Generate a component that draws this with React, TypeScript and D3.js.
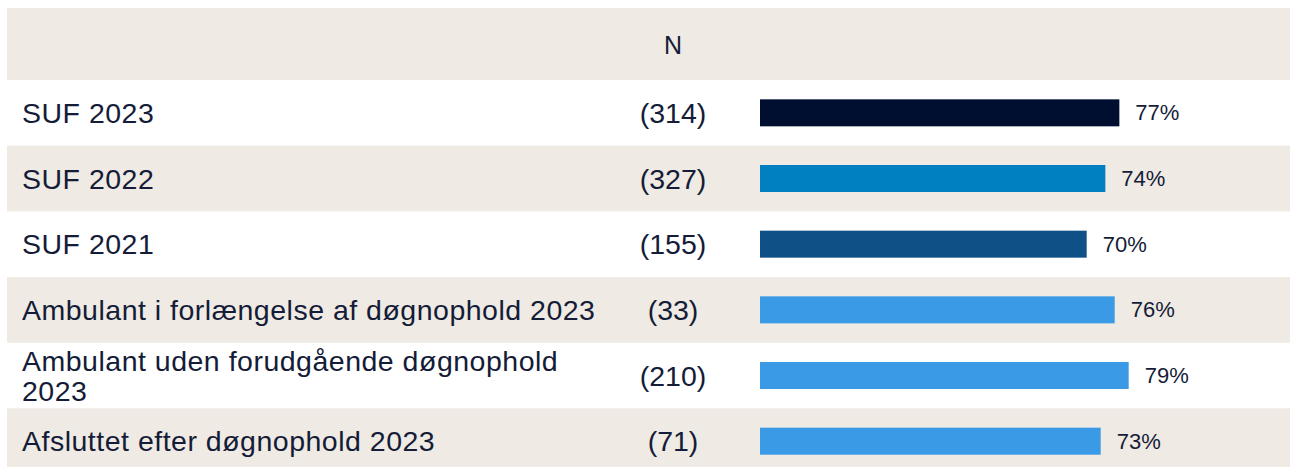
import React from "react";
import * as d3 from "d3";

const categories: string[][] = [
  ["SUF 2023"],
  ["SUF 2022"],
  ["SUF 2021"],
  ["Ambulant i forlængelse af døgnophold 2023"],
  ["Ambulant uden forudgående døgnophold", "2023"],
  ["Afsluttet efter døgnophold 2023"],
];
const counts = ["(314)", "(327)", "(155)", "(33)", "(210)", "(71)"];
const values = [77, 74, 70, 76, 79, 73];
const colors = ["#000e2f", "#0080c1", "#0f5186", "#3a9ae6", "#3a9ae6", "#3a9ae6"];
const header = "N";

const W = 1291;
const H = 467;
const textColor = "#141c38";
const stripe = "#efeae3";
const labelFont = "'Liberation Sans', Arial, sans-serif";
const valueFont = "'Liberation Sans', Arial, sans-serif";

export default function App() {
  const left = 7;
  const right = 1290;
  const headerTop = 8;
  const headerBottom = 80;
  const rowH = 65.67;
  const x = d3.scaleLinear().domain([0, 100]).range([760, 1226.7]);
  const y = d3
    .scaleBand<number>()
    .domain(d3.range(values.length))
    .range([headerBottom, headerBottom + rowH * values.length])
    .paddingInner(0)
    .paddingOuter(0);
  const barH = 27;
  const nX = 673;
  const lineGap = 30;

  return (
    <svg
      width={W}
      height={H}
      style={{ position: "absolute", left: 0, top: 0, display: "block" }}
    >
      <rect x={0} y={0} width={W} height={H} fill="#ffffff" />
      <rect x={left} y={headerTop} width={right - left} height={headerBottom - headerTop} fill={stripe} />
      <text
        x={nX}
        y={45}
        textAnchor="middle"
        dominantBaseline="central"
        fontFamily={labelFont}
        fontSize={25}
        fill={textColor}
      >
        {header}
      </text>
      {values.map((v, i) => {
        const y0 = y(i)!;
        const cy = y0 + y.bandwidth() / 2;
        const lines = categories[i];
        return (
          <g key={i}>
            {i % 2 === 1 && (
              <rect x={left} y={y0} width={right - left} height={y.bandwidth()} fill={stripe} />
            )}
            {lines.map((l, j) => (
              <text
                key={j}
                x={22}
                y={cy + (j - (lines.length - 1) / 2) * lineGap}
                dominantBaseline="central"
                fontFamily={labelFont}
                fontSize={28.5}
                letterSpacing={0.5}
                fill={textColor}
              >
                {l}
              </text>
            ))}
            <text
              x={nX}
              y={cy}
              textAnchor="middle"
              dominantBaseline="central"
              fontFamily={labelFont}
              fontSize={28.5}
              fill={textColor}
            >
              {counts[i]}
            </text>
            <rect
              x={x(0)}
              y={cy - barH / 2}
              width={x(v) - x(0)}
              height={barH}
              fill={colors[i]}
            />
            <text
              x={x(v) + 16}
              y={cy}
              dominantBaseline="central"
              fontFamily={valueFont}
              fontSize={22}
              fill={textColor}
            >
              {v}%
            </text>
          </g>
        );
      })}
    </svg>
  );
}
